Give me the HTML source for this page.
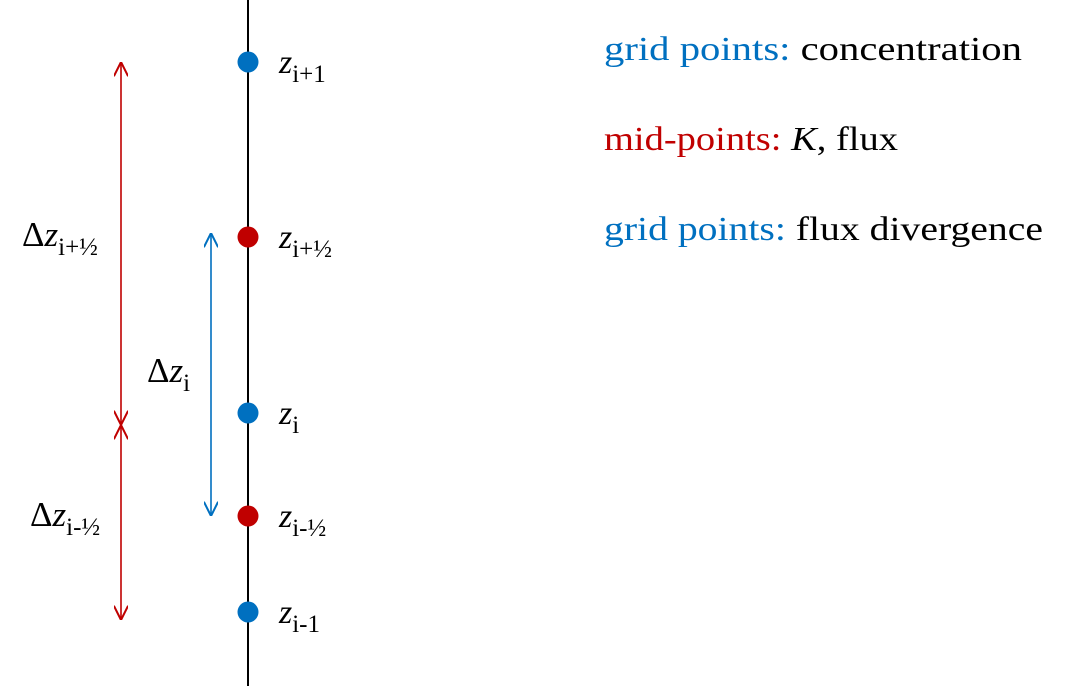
<!DOCTYPE html>
<html><head><meta charset="utf-8"><style>
html,body{margin:0;padding:0;background:#fff;}
svg{display:block;font-family:"Liberation Serif",serif;}
</style></head><body>
<svg id="c" width="1067" height="686" viewBox="0 0 1067 686">
<defs>
<marker id="ar" viewBox="0 0 10 10" refX="10" refY="5" markerWidth="9" markerHeight="9" orient="auto-start-reverse"><path d="M0,0 L10,5 L0,10" fill="none" stroke="#c00000" stroke-width="1.4"/></marker>
<marker id="ab" viewBox="0 0 10 10" refX="10" refY="5" markerWidth="9" markerHeight="9" orient="auto-start-reverse"><path d="M0,0 L10,5 L0,10" fill="none" stroke="#0070c0" stroke-width="1.4"/></marker>
</defs>
<line x1="248" y1="0" x2="248" y2="686" stroke="#000" stroke-width="2"/>
<g id="pts"></g>
<g font-size="34">
<text x="604" y="60" textLength="418" lengthAdjust="spacingAndGlyphs"><tspan fill="#0070c0">grid points:</tspan> concentration</text>
<text x="604" y="150" textLength="294" lengthAdjust="spacingAndGlyphs"><tspan fill="#c00000">mid-points:</tspan> <tspan font-style="italic">K</tspan>, flux</text>
<text x="604" y="240" textLength="439" lengthAdjust="spacingAndGlyphs"><tspan fill="#0070c0">grid points:</tspan> flux divergence</text>
</g>
</svg>
<script>
// point positions (pixels along the axis) and labels
const pointLevels = [62, 237, 413, 516, 612];
const pointKinds = ['grid', 'mid', 'grid', 'mid', 'grid'];
const pointSubs = ['i+1', 'i+½', 'i', 'i-½', 'i-1'];
const NS = 'http://www.w3.org/2000/svg';
const svg = document.getElementById('c');
const g = document.getElementById('pts');
function mk(t, a){const e=document.createElementNS(NS,t);for(const k in a)e.setAttribute(k,a[k]);return e;}
const col = k => k==='grid' ? '#0070c0' : '#c00000';
pointLevels.forEach((y,i)=>{
  const c = mk('circle',{cx:248,cy:y,r:10.5,fill:col(pointKinds[i])});
  
  
  g.appendChild(c);
  const t = mk('text',{x:279,y:y+11,'font-size':34});
  
  
  t.innerHTML = '<tspan font-style="italic">z</tspan><tspan font-size="25" dy="9">'+pointSubs[i]+'</tspan>';
  g.appendChild(t);
});
// arrows
function arrow(x,y1,y2,color,mark,name){
  const l = mk('line',{x1:x,y1:y1,x2:x,y2:y2,stroke:color,'stroke-width':1.6,'marker-start':'url(#'+mark+')','marker-end':'url(#'+mark+')'});
  
  
  svg.appendChild(l);
}
arrow(121, pointLevels[0], 425, '#c00000', 'ar', 'delta-z-i-plus-half-arrow');
arrow(121, 425, 620, '#c00000', 'ar', 'delta-z-i-minus-half-arrow');
arrow(211, pointLevels[1]-4, pointLevels[3], '#0070c0', 'ab', 'delta-z-i-arrow');
function dlabel(x,y,sub,name){
  const t = mk('text',{x:x,y:y,'font-size':35});
  
  
  t.innerHTML = 'Δ<tspan font-style="italic">z</tspan><tspan font-size="25" dy="9">'+sub+'</tspan>';
  svg.appendChild(t);
}
dlabel(22, 246, 'i+½', 'delta-z-i-plus-half-label');
dlabel(147, 382, 'i', 'delta-z-i-label');
dlabel(30, 526, 'i-½', 'delta-z-i-minus-half-label');
</script>
</body></html>
